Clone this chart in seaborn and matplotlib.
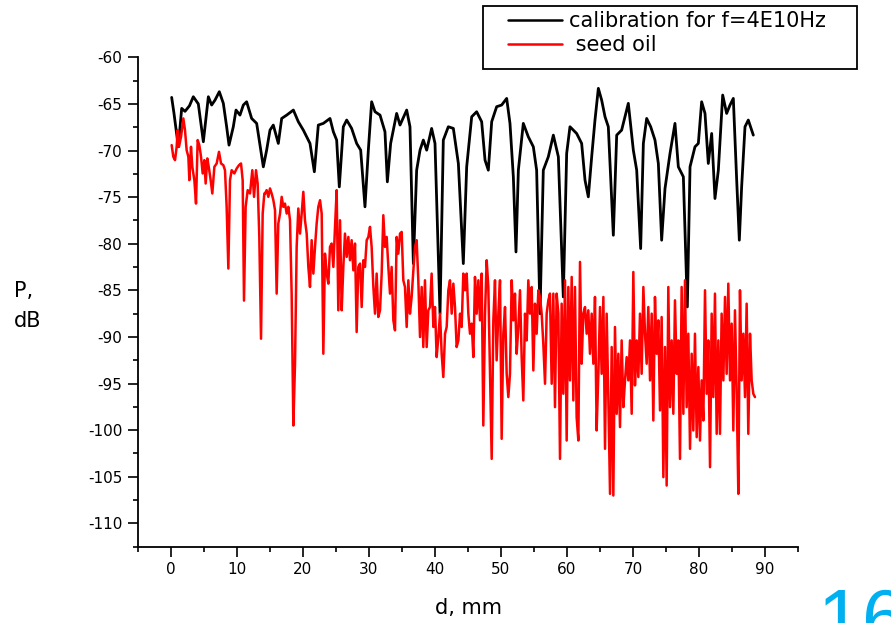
import matplotlib
matplotlib.use("Agg")
import matplotlib.pyplot as plt
import seaborn as sns
import pandas as pd
from matplotlib.ticker import MultipleLocator
from matplotlib.patches import Rectangle

# ---------------- data ----------------
calib_label = "calibration for f=4E10Hz"
oil_label = " seed oil"

calib_d = [0.10, 0.45, 1.11, 1.62, 2.12, 2.8, 3.38, 4.14, 4.90, 5.66, 6.16, 6.67, 7.32, 7.93,
           8.43, 8.79, 9.44, 9.85, 10.45, 10.96, 11.46, 12.22, 12.98, 13.99, 14.49, 15.0, 15.50,
           16.26, 16.77, 17.53, 18.54, 19.29, 20.05, 21.06, 21.72, 22.32, 23.08, 24.09, 24.6,
           25.1, 25.5, 26.11, 26.62, 27.37, 28.13, 28.74, 29.39, 29.9, 30.4, 30.91, 31.67, 32.42,
           32.78, 33.28, 34.19,
           34.70, 35.71, 36.21, 36.72, 37.22, 37.73, 38.23, 38.74, 39.49, 40.0, 40.76, 41.26,
           42.02, 42.78, 43.54, 44.29, 44.80, 45.56, 46.31, 47.07, 47.58, 48.08, 48.59, 49.34,
           50.10, 50.86, 51.36, 51.87, 52.27, 52.63, 53.38, 54.14, 54.90, 55.40, 55.91, 56.41,
           57.17, 57.93, 58.69, 59.44, 59.95, 60.45, 61.46, 62.22, 62.73, 63.23, 63.74, 64.24,
           64.75, 65.25, 65.76, 66.26, 67.02, 67.53, 68.28, 69.29, 70.05, 70.56, 71.16, 71.57,
           72.07, 72.68, 73.33, 73.84, 74.34, 74.85, 75.61, 76.36, 76.87, 77.63, 78.23, 78.64,
           79.39, 79.90, 80.40, 80.91, 81.41, 81.92, 82.42, 82.93, 83.59, 84.19, 84.70, 85.20,
           85.71, 86.11, 86.46, 86.97, 87.47, 88.23]
calib_p = [-64.30, -66.0, -69.60, -65.48, -65.8, -65.2, -64.23, -65.0, -69.06, -64.23, -65.12,
           -64.59, -63.69, -64.94, -67.45, -69.42, -67.45, -65.66, -66.20, -65.12, -64.77, -66.56,
           -67.09, -71.75, -69.96, -67.81, -67.27, -69.24, -66.56, -66.20, -65.66, -66.91, -67.81,
           -69.24, -72.28, -67.27, -67.09, -66.56, -67.99, -68.88, -73.90, -67.45, -66.73, -67.63,
           -69.24, -69.96, -76.04, -69.96, -64.77, -65.84, -66.20, -67.99, -73.36, -69.24, -66.02,
           -67.27, -65.66, -67.45, -82.13, -72.11, -69.96, -68.88, -69.96, -67.63, -69.24, -87.50,
           -68.88, -67.45, -67.63, -71.39, -82.13, -71.75, -66.38, -65.84, -66.91, -71.03, -72.11,
           -66.91, -65.30, -65.12, -64.41, -67.09, -72.82, -80.88, -72.11, -67.09, -68.53, -69.60,
           -72.11, -87.50, -72.11, -70.67, -68.35, -70.67, -85.71, -70.31, -67.45, -68.17, -69.24,
           -73.18, -74.97, -70.67, -66.73, -63.33, -64.59, -66.38, -67.45, -79.09, -68.35, -67.81,
           -64.94, -69.96, -72.11, -80.52, -69.24, -66.56, -67.45, -68.88, -71.39, -79.62, -74.07,
           -70.31, -67.09, -71.75, -72.82, -86.78, -71.75, -69.60, -69.24, -64.77, -66.02, -71.39,
           -68.17, -75.15, -72.11, -64.05, -66.02, -65.12, -64.41, -73.18, -79.62, -73.90, -67.45,
           -66.73, -68.35]

oil_d = [0.10, 0.35, 0.61, 0.86, 1.01, 1.21, 1.52, 1.87, 2.12, 2.37, 2.63, 2.78, 3.03, 3.23,
         3.54, 3.79, 4.04, 4.29, 4.55, 4.80, 5.05, 5.25, 5.5, 5.76, 6.01, 6.26, 6.57, 6.92,
         7.27, 7.58, 7.93, 8.18, 8.43, 8.69, 8.94, 9.19, 9.60, 9.95, 10.30, 10.61, 10.86,
         11.06, 11.31, 11.62, 11.97, 12.32, 12.58, 12.88, 13.13, 13.38, 13.64, 13.89, 14.14,
         14.24, 14.49, 14.75, 15.0, 15.25, 15.51, 15.76, 16.01, 16.26, 16.52, 16.77, 17.02,
         17.27, 17.53, 17.78, 18.03, 18.28, 18.54, 18.79, 19.04, 19.29, 19.55, 19.80, 20.05,
         20.30, 20.56, 20.81, 21.06, 21.31, 21.57, 21.82, 22.07, 22.32, 22.58, 22.83, 23.08,
         23.33, 23.59, 23.84, 24.09, 24.34, 24.60, 24.85, 25.10, 25.35, 25.61, 25.86, 26.11,
         26.36, 26.62, 26.87, 27.12, 27.37, 27.63, 27.88, 28.13, 28.38, 28.64,
         28.89, 29.14, 29.39, 29.65, 29.90, 30.15, 30.40, 30.66, 30.91, 31.16, 31.41, 31.67,
         31.92, 32.17, 32.42, 32.68, 32.93, 33.18, 33.43, 33.69, 33.94, 34.19, 34.44, 34.70,
         34.95, 35.20, 35.45, 35.71, 35.96, 36.21, 36.46, 36.72, 36.97, 37.22, 37.47, 37.73,
         37.98, 38.23, 38.48, 38.74, 38.99, 39.24, 39.49, 39.75, 40.0, 40.25, 40.51, 40.76,
         41.01, 41.26, 41.52, 41.77, 42.02, 42.27, 42.53, 42.78, 43.03,
         43.28, 43.54, 43.79, 44.04, 44.29, 44.55, 44.80, 45.05, 45.30, 45.56, 45.81, 46.06,
         46.31, 46.57, 46.82, 47.07, 47.32, 47.58, 47.83, 48.08, 48.33, 48.59, 48.84, 49.09,
         49.34, 49.60, 49.85, 50.10, 50.35, 50.61, 50.86, 51.11, 51.36, 51.62, 51.87, 52.12,
         52.37, 52.63, 52.88, 53.13, 53.38, 53.64, 53.89, 54.14, 54.39, 54.65, 54.90, 55.15,
         55.40, 55.66, 55.91, 56.16, 56.41, 56.67, 56.92, 57.17, 57.42,
         57.68, 57.93, 58.18, 58.43, 58.69, 58.94, 59.19, 59.44, 59.70, 59.95, 60.20, 60.45,
         60.71, 60.96, 61.21, 61.46, 61.72, 61.97, 62.22, 62.47, 62.73, 62.98, 63.23, 63.48,
         63.74, 63.99, 64.24, 64.49, 64.75, 65.0, 65.25, 65.51, 65.76, 66.01, 66.26, 66.52,
         66.77, 67.02, 67.27, 67.53, 67.78, 68.03, 68.28, 68.54, 68.79, 69.04, 69.29, 69.55,
         69.80, 70.05, 70.30, 70.56, 70.81, 71.06, 71.31, 71.57, 71.82,
         72.07, 72.32, 72.58, 72.83, 73.08, 73.33, 73.59, 73.84, 74.09, 74.34, 74.60, 74.85,
         75.10, 75.35, 75.61, 75.86, 76.11, 76.36, 76.62, 76.87, 77.12, 77.37, 77.63, 77.88,
         78.13, 78.38, 78.64, 78.89, 79.14, 79.39, 79.65, 79.90, 80.15, 80.40, 80.66, 80.91,
         81.16, 81.41, 81.67, 81.92, 82.17, 82.42, 82.68, 82.93, 83.18, 83.43, 83.69, 83.94,
         84.19, 84.44, 84.70, 84.95, 85.20, 85.45, 85.71, 85.96, 86.21, 86.46, 86.72, 86.97,
         87.22, 87.47, 87.73, 87.98, 88.23, 88.48]
oil_p = [-69.42, -70.67, -71.03, -69.60, -67.81, -69.60, -68.52, -66.56, -67.81, -69.96, -70.67,
         -73.18, -69.60, -71.75, -73.18, -75.69, -68.88, -69.42, -70.67, -72.46, -71.03, -73.54,
         -70.85, -71.93, -73.18, -74.61, -71.75, -71.39, -70.14, -71.39, -71.57, -72.11, -76.04,
         -82.66, -73.18, -72.11, -72.46, -71.93, -71.57, -71.39, -73.18, -86.10, -76.04, -74.25,
         -74.61, -72.11, -74.97, -72.11, -73.54, -79.27, -90.19, -76.76, -74.61,
         -74.61, -74.25, -74.97, -74.07, -74.61, -75.33, -76.40, -85.35, -77.83, -76.76, -74.97,
         -76.04, -75.69, -76.76, -76.04, -77.48, -85.35, -99.50, -92.87, -80.34, -76.22, -78.91,
         -76.76, -74.43, -77.48, -78.91, -82.49, -84.64, -79.62, -83.20, -80.34, -77.83, -76.04,
         -75.33, -76.76, -91.80, -81.06, -83.20, -84.28, -80.34, -79.98, -82.49, -78.19, -74.25,
         -87.14, -77.48, -87.14, -82.49, -78.91, -81.41, -79.27, -81.77, -79.62, -82.85, -79.98,
         -89.47, -82.49, -82.13,
         -86.79, -81.77, -82.49, -79.62, -79.27, -78.19, -80.34, -84.64, -87.50, -83.20, -87.86,
         -87.14, -83.20, -76.94, -80.34, -79.27, -82.49, -85.35, -82.49, -88.22, -89.29, -79.27,
         -81.06, -78.91, -78.73, -83.92, -84.64, -88.93, -83.92, -87.50, -85.71, -82.85, -80.34,
         -79.62, -83.92, -90.01, -84.64, -91.08, -83.92, -91.08, -87.14, -86.79, -83.20, -88.93,
         -86.79, -92.16, -90.01, -87.50, -91.80, -94.30, -89.65, -88.93, -84.99, -83.92, -87.50,
         -84.28, -86.79,
         -91.08, -90.37, -87.50, -88.93, -83.20, -84.99, -83.20, -87.50, -89.65, -88.57, -92.16,
         -83.56, -87.50, -83.92, -88.22, -83.20, -99.50, -87.50, -81.77, -84.64, -93.95, -103.08,
         -88.22, -83.92, -92.51, -87.50, -83.92, -100.93, -89.65, -86.79, -93.95, -96.45, -93.95,
         -83.92, -88.22, -85.35, -91.80, -88.93, -84.99, -92.16, -96.81, -87.50, -90.37, -83.92,
         -87.50, -84.64, -93.59, -86.43, -89.65, -84.99, -85.71, -87.50, -90.72, -95.02, -87.50,
         -86.07, -85.35,
         -95.02, -85.35, -97.53, -85.35, -87.50, -103.08, -86.43, -96.09, -83.92, -101.11, -84.64,
         -94.66, -83.56, -96.81, -84.64, -98.60, -101.11, -81.95, -92.87, -87.50, -86.79, -89.65,
         -87.14, -91.80, -87.50, -92.87, -85.71, -100.03, -93.95, -86.79, -93.95, -85.71, -102.0,
         -87.50, -96.45, -106.83, -91.08, -107.01, -88.93, -98.24, -91.80, -99.67, -90.37, -97.53,
         -94.66, -92.16, -94.66, -90.37, -98.24, -83.03, -95.20, -90.37, -94.30, -87.50, -93.95,
         -84.64, -89.65,
         -92.87, -86.79, -94.66, -87.50, -98.96, -85.71, -91.80, -88.22, -97.88, -87.86, -105.04,
         -91.08, -105.94, -84.64, -97.53, -90.37, -98.24, -86.07, -93.95, -90.37, -103.08, -84.64,
         -98.24, -83.92, -97.53, -89.65, -102.0, -91.80, -100.03, -89.65, -100.75, -93.23, -101.11,
         -94.66, -98.96, -84.99, -96.09, -90.37, -103.97, -87.50, -96.45, -85.35, -100.39, -90.37,
         -100.39, -87.50, -94.66, -85.71, -93.95, -84.28, -94.66, -88.57, -100.03, -87.14, -96.09,
         -106.83, -84.99, -94.66, -89.65, -96.45, -86.43, -100.39, -89.65, -94.66, -96.09, -96.45]

x_ticks = [0, 10, 20, 30, 40, 50, 60, 70, 80, 90]
y_ticks = [-110, -105, -100, -95, -90, -85, -80, -75, -70, -65, -60]
x_label = "d, mm"
y_label_lines = ["P,", "dB"]
page_number = "16"

# ---------------- styling ----------------
sns.set_theme(style="ticks")
plt.rcParams["font.family"] = ["DejaVu Sans"]
plt.rcParams["axes.unicode_minus"] = False
plt.rcParams["text.color"] = "black"
plt.rcParams["axes.labelcolor"] = "black"
plt.rcParams["xtick.color"] = "black"
plt.rcParams["ytick.color"] = "black"
plt.rcParams["legend.labelcolor"] = "black"

W, H = 891, 623
fig = plt.figure(figsize=(W / 100, H / 100), dpi=100)
fig.patch.set_facecolor("white")
L, R, B, T = 138, 798, 546.7, 57.3
ax = fig.add_axes([L / W, 1 - B / H, (R - L) / W, (B - T) / H])
ax.set_facecolor("white")

calib_df = pd.DataFrame({"d": calib_d, "P": calib_p})
oil_df = pd.DataFrame({"d": oil_d, "P": oil_p})

sns.lineplot(data=calib_df, x="d", y="P", ax=ax, color="black", lw=2.0,
             sort=False, estimator=None, label=calib_label)
sns.lineplot(data=oil_df, x="d", y="P", ax=ax, color="#ff0000", lw=1.8,
             sort=False, estimator=None, label=oil_label)

ax.set_xlim(-5, 95)
ax.set_ylim(-112.5, -60)
ax.set_xticks(x_ticks)
ax.set_yticks(y_ticks)
ax.xaxis.set_minor_locator(MultipleLocator(5))
ax.yaxis.set_minor_locator(MultipleLocator(2.5))
ax.set_xlabel("")
ax.set_ylabel("")
sns.despine(ax=ax)
for s in ["left", "bottom"]:
    ax.spines[s].set_linewidth(1.3)
    ax.spines[s].set_color("black")
ax.tick_params(which="major", direction="out", length=7.2, width=1.2, color="black",
               labelsize=11, labelcolor="black", pad=4)
ax.tick_params(which="minor", direction="out", length=3.6, width=1.2, color="black")
ax.grid(False)

# axis labels
fig.text(468 / W, 1 - 614 / H, x_label, ha="center", va="baseline", fontsize=15, color="black")
fig.text(14 / W, 1 - 297 / H, y_label_lines[0], ha="left", va="baseline", fontsize=15, color="black")
fig.text(14 / W, 1 - 327 / H, y_label_lines[1], ha="left", va="baseline", fontsize=15, color="black")

# legend (frame drawn separately to match the box)
leg = ax.legend(loc="upper left", bbox_to_anchor=(508 / W, 1 - 11 / H),
                bbox_transform=fig.transFigure, frameon=False, fontsize=15,
                handlelength=2.6, handletextpad=0.35, borderpad=0, borderaxespad=0,
                labelspacing=0.2)
for line in leg.get_lines():
    line.set_linewidth(1.8)
for t in leg.get_texts():
    t.set_color("black")
fig.patches.append(Rectangle((483 / W, 1 - 69 / H), (857 - 483) / W, 63 / H,
                             transform=fig.transFigure, fill=False, edgecolor="black",
                             lw=1.3, zorder=5))

# slide number (cut off at the bottom edge, as in the reference)
fig.text(818 / W, 1 - 645 / H, page_number, ha="left", va="baseline", fontsize=57,
         color="#00b0f0", family="Liberation Sans")

fig.savefig("out.png", dpi=100, facecolor="white")
